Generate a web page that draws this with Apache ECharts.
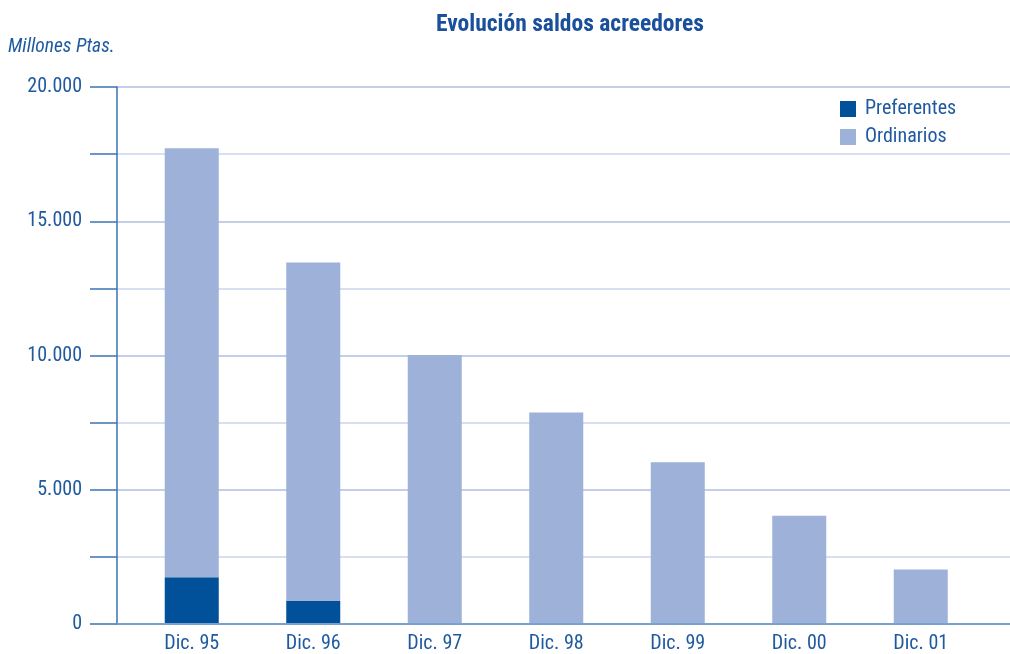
<!DOCTYPE html>
<html><head><meta charset="utf-8">
<script src="https://cdn.jsdelivr.net/npm/echarts@6/dist/echarts.min.js"></script>
<style>html,body{margin:0;padding:0;background:#fff}#c{width:1010px;height:654px}</style>
</head><body><div id="c"></div>
<script>
var categories = ['Dic. 95','Dic. 96','Dic. 97','Dic. 98','Dic. 99','Dic. 00','Dic. 01'];
var preferentes = [1710, 820, 0, 0, 0, 0, 0];
var ordinarios = [16000, 12630, 10000, 7850, 6000, 4000, 2000];
var yTicks = [0, 5000, 10000, 15000, 20000];
var FONT = '"Liberation Sans Narrow","Roboto Condensed","Roboto",sans-serif';
var TXT = '#1f5aa0';
function fmt(v){ return String(v).replace(/\B(?=(\d{3})+(?!\d))/g,'.'); }
var chart = echarts.init(document.getElementById('c'));
chart.setOption({
  animation:false,
  textStyle:{fontFamily:FONT},
  title:{text:'Evolución saldos acreedores',left:565,textAlign:'center',top:8,
    textStyle:{fontFamily:FONT,fontSize:23.5,fontWeight:'bold',color:'#1a4f9c'}},
  graphic:[{type:'text',left:8,top:37,style:{text:'Millones Ptas.',fontFamily:FONT,fontStyle:'italic',fontSize:19.5,fill:TXT}}],
  legend:{orient:'vertical',left:840,top:99,padding:0,itemWidth:16,itemHeight:16,itemGap:8,icon:'rect',
    textStyle:{fontFamily:FONT,fontSize:20,color:TXT,padding:[0,0,0,4]},
    data:['Preferentes','Ordinarios']},
  grid:[{left:117,right:0,top:87,bottom:30},{left:131,right:28.5,top:87,bottom:30}],
  xAxis:[
    {gridIndex:0,type:'value',min:0,max:1,show:true,axisLine:{show:true,lineStyle:{color:'#7aa2cf',width:2}},
     axisTick:{show:false},axisLabel:{show:false},splitLine:{show:false}},
    {gridIndex:1,type:'category',data:categories,axisLine:{show:false},axisTick:{show:false},
     axisLabel:{fontFamily:FONT,fontSize:20,color:TXT,margin:11},splitLine:{show:false}}
  ],
  yAxis:[
    {gridIndex:0,type:'value',min:0,max:20000,interval:2500,
     axisLine:{show:true,lineStyle:{color:'#3a74b4',width:1.5}},
     axisTick:{show:true,length:27,lineStyle:{color:'#3a74b4',width:1.5}},
     axisLabel:{margin:35,fontFamily:FONT,fontSize:20,color:TXT,
       formatter:function(v){return yTicks.indexOf(v)>=0?fmt(v):'';}},
     splitLine:{show:true,lineStyle:{color:['#b2bee0','#ccd4ec'],width:1.5}}},
    {gridIndex:1,type:'value',min:0,max:20000,interval:2500,show:false,splitLine:{show:false}}
  ],
  series:[
    {name:'Preferentes',type:'bar',stack:'s',xAxisIndex:1,yAxisIndex:1,data:preferentes,barWidth:54,
     itemStyle:{color:'#00519a'}},
    {name:'Ordinarios',type:'bar',stack:'s',xAxisIndex:1,yAxisIndex:1,data:ordinarios,barWidth:54,
     itemStyle:{color:'#9db1d9'}}
  ]
});
</script></body></html>
